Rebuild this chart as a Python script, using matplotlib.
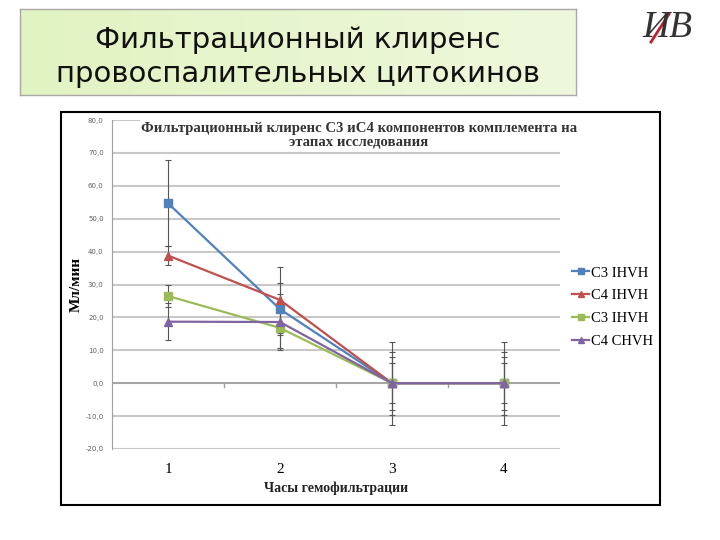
import matplotlib
matplotlib.use("Agg")
import matplotlib.pyplot as plt
import numpy as np
from matplotlib.patches import Rectangle
from matplotlib.lines import Line2D

# данные
hours = [1, 2, 3, 4]
c3_ihvh = [54.7, 22.5, 0.0, 0.0]
c4_ihvh = [38.8, 25.3, 0.0, 0.0]
c3_ihvh2 = [26.5, 16.8, 0.0, 0.0]
c4_chvh = [18.7, 18.6, 0.0, 0.0]
err_c3_ihvh = [13.1, 8.0, 12.6, 12.6]
err_c4_ihvh = [3.0, 10.0, 9.6, 9.6]
err_c3_ihvh2 = [3.2, 6.2, 6.0, 6.0]
err_c4_chvh = [5.7, 8.5, 8.0, 8.0]
labels = ["C3 IHVH", "C4 IHVH", "C3 IHVH", "C4 CHVH"]
y_ticks = [80, 70, 60, 50, 40, 30, 20, 10, 0, -10, -20]

W, H = 720, 540
fig = plt.figure(figsize=(7.2, 5.4), dpi=100)
fig.patch.set_facecolor("white")

def box(x0, y0, x1, y1):
    # пиксели (сверху вниз) -> доли фигуры
    return [x0 / W, 1 - y1 / H, (x1 - x0) / W, (y1 - y0) / H]

# плашка с заголовком слайда
ax_t = fig.add_axes(box(20, 9, 576, 95))
grad = np.linspace(0, 1, 256).reshape(1, -1)
cmap = matplotlib.colors.LinearSegmentedColormap.from_list("g", ["#e2f3c2", "#eef8dc"])
ax_t.imshow(grad, aspect="auto", cmap=cmap, extent=[0, 1, 0, 1])
ax_t.set_xlim(0, 1)
ax_t.set_ylim(0, 1)
ax_t.set_xticks([])
ax_t.set_yticks([])
for s in ax_t.spines.values():
    s.set_color("#a8a8a8")
    s.set_linewidth(1)
ax_t.text(0.5, 0.44, "Фильтрационный клиренс\nпровоспалительных цитокинов",
          ha="center", va="center", fontsize=21, family="DejaVu Sans",
          color="#111111", linespacing=1.25)

# логотип
fig.text(667 / W, 1 - 28 / H, "ИВ", ha="center", va="center", fontsize=27,
         family="Liberation Serif", style="italic", color="#333333")
fig.add_artist(Line2D([651 / W, 669 / W], [1 - 42 / H, 1 - 14 / H],
                      color="#c0202a", lw=2))

# рамка диаграммы
fig.add_artist(Rectangle((61 / W, 1 - 505 / H), (660 - 61) / W, (505 - 112) / H,
                         fill=False, edgecolor="black", lw=1.5))

ax = fig.add_axes(box(112, 120, 560, 449))
ax.set_xlim(0.5, 4.5)
ax.set_ylim(-20, 80)
ax.set_yticks(y_ticks)
ax.set_yticklabels([("%.1f" % v).replace(".", ",") for v in y_ticks])
ax.yaxis.grid(True, color="#c8c8c8", lw=1.5)
ax.set_axisbelow(True)
for side in ["top", "right", "bottom"]:
    ax.spines[side].set_visible(False)
ax.spines["left"].set_color("#a0a0a0")
ax.tick_params(axis="y", length=0, labelsize=5, labelcolor="#606060", pad=6)
ax.set_xticks(hours)
ax.set_xticklabels([str(h) for h in hours], family="Liberation Serif", fontsize=11)
ax.tick_params(axis="x", length=0, pad=10)
ax.axhline(0, color="#a0a0a0", lw=1.2, zorder=1)
for xb in [1.5, 2.5, 3.5]:
    ax.plot([xb, xb], [0, -1.2], color="#a0a0a0", lw=1, zorder=1)

series = [
    (c3_ihvh, err_c3_ihvh, "#4f81bd", "s"),
    (c4_ihvh, err_c4_ihvh, "#c0504d", "^"),
    (c3_ihvh2, err_c3_ihvh2, "#9bbb59", "s"),
    (c4_chvh, err_c4_chvh, "#8064a2", "^"),
]
handles = []
for (vals, errs, col, mk), lab in zip(series, labels):
    ax.errorbar(hours, vals, yerr=errs, fmt="none", ecolor="#555555",
                elinewidth=0.8, capsize=2.5, capthick=0.8, zorder=2)
    h, = ax.plot(hours, vals, color=col, lw=1.6, marker=mk, markersize=6,
                 label=lab, zorder=3)
    handles.append(h)

ax.set_ylabel("Мл/мин", family="Liberation Serif", fontweight="bold",
              fontsize=11, labelpad=2)
ax.set_xlabel("Часы гемофильтрации", family="Liberation Serif",
              fontweight="bold", fontsize=10, color="#222222", labelpad=4)
fig.text(359 / W, 1 - 135 / H,
         "Фильтрационный клиренс С3 иС4 компонентов комплемента на\n"
         "этапах исследования", family="Liberation Serif", fontweight="bold",
         fontsize=10.6, color="#333333", ha="center", va="center",
         linespacing=1.05,
         bbox=dict(facecolor="white", edgecolor="none", pad=1))

leg = fig.legend(handles=handles, loc="center left",
                 bbox_to_anchor=(566 / W, 1 - 307 / H), frameon=False,
                 prop={"family": "Liberation Serif", "size": 10.5},
                 handlelength=1.2, handletextpad=0.1, labelspacing=0.65,
                 borderaxespad=0)
for lh in leg.legend_handles:
    lh.set_markersize(4)

fig.savefig("out.png", dpi=100)
